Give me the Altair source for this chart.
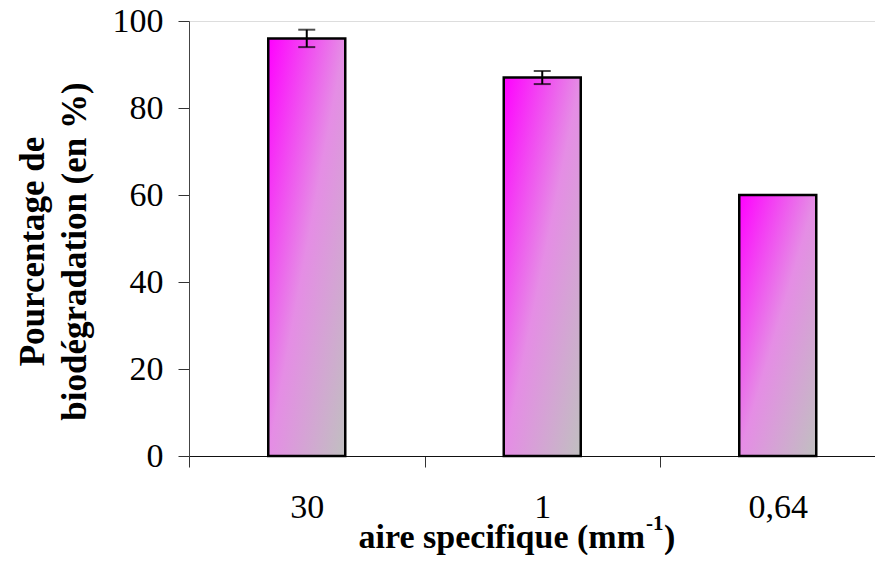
import altair as alt
import pandas as pd

categories = ["30", "1", "0,64"]
values = [96.0, 87.0, 60.0]
errors = [2.0, 1.5, None]
y_ticks = [0, 20, 40, 60, 80, 100]

bars_df = pd.DataFrame({"cat": categories, "val": values})
err_rows = [(c, v - e, v + e) for c, v, e in zip(categories, values, errors) if e is not None]
err_df = pd.DataFrame(err_rows, columns=["cat", "lo", "hi"])

FONT = "Liberation Serif"

x_enc = alt.X(
    "cat:N",
    sort=categories,
    scale=alt.Scale(range=[0, 706.5], paddingInner=0, paddingOuter=0),
    axis=alt.Axis(
        title=None,
        labelAngle=0,
        labelFont=FONT,
        labelFontSize=34,
        labelColor="black",
        labelBaseline="alphabetic",
        labelPadding=50,
        tickBand="extent",
        tickSize=11,
        tickColor="#333333",
        domainColor="#111111",
        domainWidth=1.2,
        grid=False,
    ),
)

y_enc = alt.Y(
    "val:Q",
    scale=alt.Scale(domain=[0, 100], nice=False),
    axis=alt.Axis(
        values=y_ticks,
        title=["Pourcentage de", "biodégradation (en %)"],
        titleFont=FONT,
        titleFontSize=35,
        titleFontWeight="bold",
        titleColor="black",
        titleLineHeight=42,
        titleBaseline="alphabetic",
        titleAlign="center",
        titleAngle=270,
        titleX=-146,
        titleY=230,
        labelFont=FONT,
        labelFontSize=34,
        labelColor="black",
        labelPadding=15,
        tickSize=11,
        tickColor="#333333",
        domainColor="#444444",
        grid=False,
    ),
)

gradient = alt.LinearGradient(
    gradient="linear",
    stops=[
        alt.GradientStop(color="#ff00ff", offset=0),
        alt.GradientStop(color="#e58de5", offset=0.5),
        alt.GradientStop(color="#c0c0c0", offset=1),
    ],
    x1=0, y1=0, x2=1, y2=1,
)

bars = alt.Chart(bars_df).mark_bar(
    fill=gradient, stroke="black", strokeWidth=2.5, size=77
).encode(x=x_enc, y=y_enc)

err_rule = alt.Chart(err_df).mark_rule(color="black", strokeWidth=2).encode(
    x=alt.X("cat:N", sort=categories),
    y=alt.Y("lo:Q"),
    y2="hi:Q",
)
cap_lo = alt.Chart(err_df).mark_tick(color="black", thickness=2, size=17).encode(
    x=alt.X("cat:N", sort=categories), y=alt.Y("lo:Q")
)
cap_hi = alt.Chart(err_df).mark_tick(color="black", thickness=2, size=17).encode(
    x=alt.X("cat:N", sort=categories), y=alt.Y("hi:Q")
)

title_df = pd.DataFrame({"t": ["aire specifique (mm"]})
t_main = alt.Chart(title_df).mark_text(
    font=FONT, fontSize=34, fontWeight="bold", align="right", baseline="alphabetic", color="black"
).encode(text="t:N", x=alt.value(456), y=alt.value(527))
sup_df = pd.DataFrame({"t": ["-1"]})
t_sup = alt.Chart(sup_df).mark_text(
    font=FONT, fontSize=21, fontWeight="bold", align="left", baseline="alphabetic", color="black"
).encode(text="t:N", x=alt.value(457), y=alt.value(509))
par_df = pd.DataFrame({"t": [")"]})
t_par = alt.Chart(par_df).mark_text(
    font=FONT, fontSize=34, fontWeight="bold", align="left", baseline="alphabetic", color="black"
).encode(text="t:N", x=alt.value(475), y=alt.value(527))

chart = alt.layer(bars, err_rule, cap_lo, cap_hi, t_main, t_sup, t_par).properties(
    width=686,
    height=435,
    autosize=alt.AutoSizeParams(type="none"),
    padding={"left": 181, "top": 13, "right": 0, "bottom": 99},
).configure_view(stroke=None).configure(background="white")

chart.save("out.html", embed_options={"renderer": "svg", "actions": False})
